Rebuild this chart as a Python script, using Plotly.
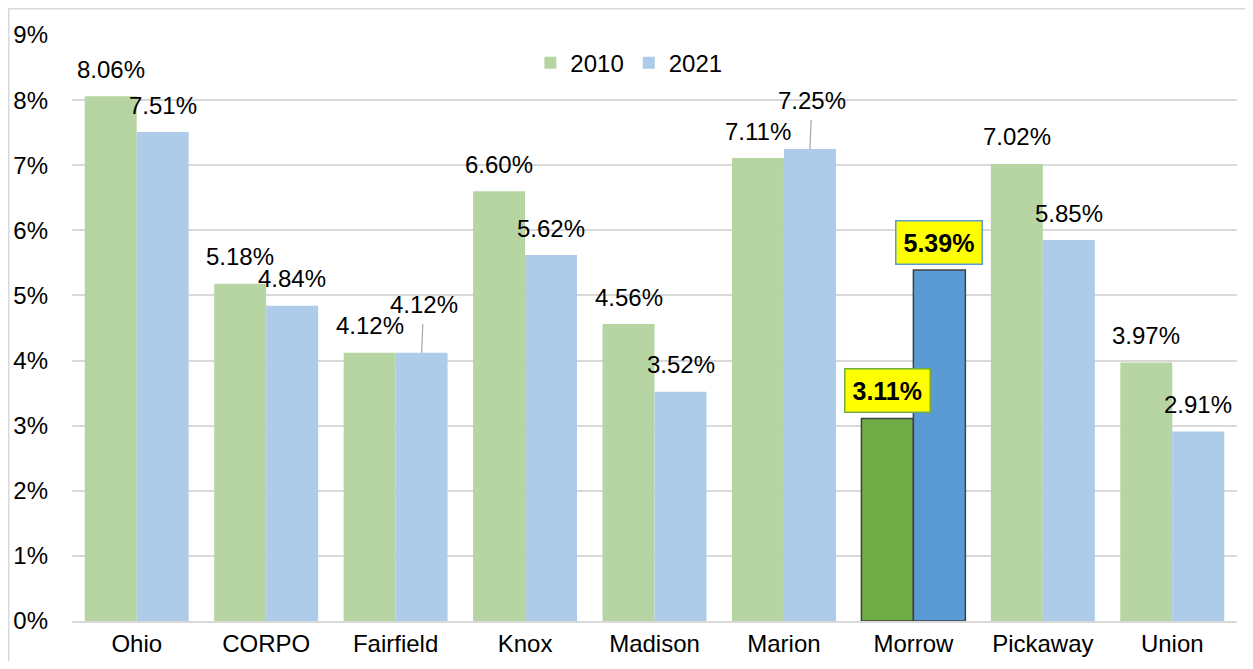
import plotly.graph_objects as go

categories = ["Ohio", "CORPO", "Fairfield", "Knox", "Madison", "Marion", "Morrow", "Pickaway", "Union"]
values_2010 = [8.06, 5.18, 4.12, 6.60, 4.56, 7.11, 3.11, 7.02, 3.97]
values_2021 = [7.51, 4.84, 4.12, 5.62, 3.52, 7.25, 5.39, 5.85, 2.91]
y_ticks = [0, 1, 2, 3, 4, 5, 6, 7, 8, 9]
y_tick_labels = ["0%", "1%", "2%", "3%", "4%", "5%", "6%", "7%", "8%", "9%"]
highlight = "Morrow"

FONT = "Arial, Liberation Sans, sans-serif"
LIGHT_GREEN, DARK_GREEN = "#B7D5A3", "#70AD47"
LIGHT_BLUE, DARK_BLUE = "#AECBE9", "#5B9BD5"
OUTLINE = "#404040"

# page body has an 8px margin, so the figure is sized to fit inside it
W, H = 1237, 653
ML, MR, MT, MB = 64, 8, 27, 40
PW, PH = W - ML - MR, H - MT - MB
FS = 24


def colors(light, dark):
    return [dark if c == highlight else light for c in categories]


line_w = [1.5 if c == highlight else 0 for c in categories]

fig = go.Figure()
fig.add_trace(go.Bar(
    name="2010", x=categories, y=values_2010,
    marker=dict(color=colors(LIGHT_GREEN, DARK_GREEN), line=dict(color=OUTLINE, width=line_w)),
    hoverinfo="x+y",
))
fig.add_trace(go.Bar(
    name="2021", x=categories, y=values_2021,
    marker=dict(color=colors(LIGHT_BLUE, DARK_BLUE), line=dict(color=OUTLINE, width=line_w)),
    hoverinfo="x+y",
))

# data labels
leader = {"Fairfield", "Marion"}
for series, vals, dx, border in [("2010", values_2010, -26, DARK_GREEN), ("2021", values_2021, 26, DARK_BLUE)]:
    for c, v in zip(categories, vals):
        txt = f"{v:.2f}%"
        if c == highlight:
            fig.add_annotation(
                x=c, y=v, xshift=dx, yshift=28, text=f"<b>{txt}</b>", showarrow=False,
                font=dict(family=FONT, size=25, color="black"),
                bgcolor="#FFFF00", bordercolor=border, borderwidth=1.5, borderpad=7,
            )
        elif series == "2021" and c in leader:
            fig.add_annotation(
                x=c, y=v, xshift=dx, text=txt, showarrow=True, arrowhead=0,
                arrowcolor="#A6A6A6", arrowwidth=1.2, ax=2, ay=-48, standoff=0, startstandoff=4,
                font=dict(family=FONT, size=FS, color="black"),
            )
        else:
            fig.add_annotation(
                x=c, y=v, xshift=dx, yshift=27, text=txt, showarrow=False,
                font=dict(family=FONT, size=FS, color="black"),
            )

# outer chart border
fig.add_shape(
    type="rect", xref="paper", yref="paper",
    x0=(0.75 - ML) / PW, x1=(W + 10 - ML) / PW,
    y0=-(MB + 10) / PH, y1=(PH + MT - 0.75) / PH,
    line=dict(color="#D9D9D9", width=1.5), fillcolor="rgba(0,0,0,0)", layer="below",
)

fig.update_layout(
    width=W, height=H,
    margin=dict(l=ML, r=MR, t=MT, b=MB, autoexpand=False),
    paper_bgcolor="white", plot_bgcolor="white",
    barmode="group", bargap=0.197, bargroupgap=0,
    font=dict(family=FONT, size=FS, color="black"),
    showlegend=True,
    legend=dict(
        orientation="h", x=0.478, xanchor="center", y=0.952, yanchor="middle",
        font=dict(family=FONT, size=FS, color="black"), itemwidth=30,
        bgcolor="rgba(0,0,0,0)", tracegroupgap=0,
    ),
    xaxis=dict(
        type="category", categoryorder="array", categoryarray=categories,
        automargin=False,
        showgrid=False, showline=True, linecolor="#D9D9D9", linewidth=1.5,
        ticks="", tickfont=dict(family=FONT, size=FS, color="black"),
        ticklabelstandoff=0,
    ),
    yaxis=dict(
        range=[0, 9], tickmode="array", tickvals=y_ticks, ticktext=y_tick_labels,
        automargin=False,
        showgrid=True, gridcolor="#D9D9D9", gridwidth=1.5,
        zeroline=False, showline=False, ticks="",
        tickfont=dict(family=FONT, size=FS, color="black"),
        ticklabelstandoff=23,
    ),
)

fig.write_html("out.html")
